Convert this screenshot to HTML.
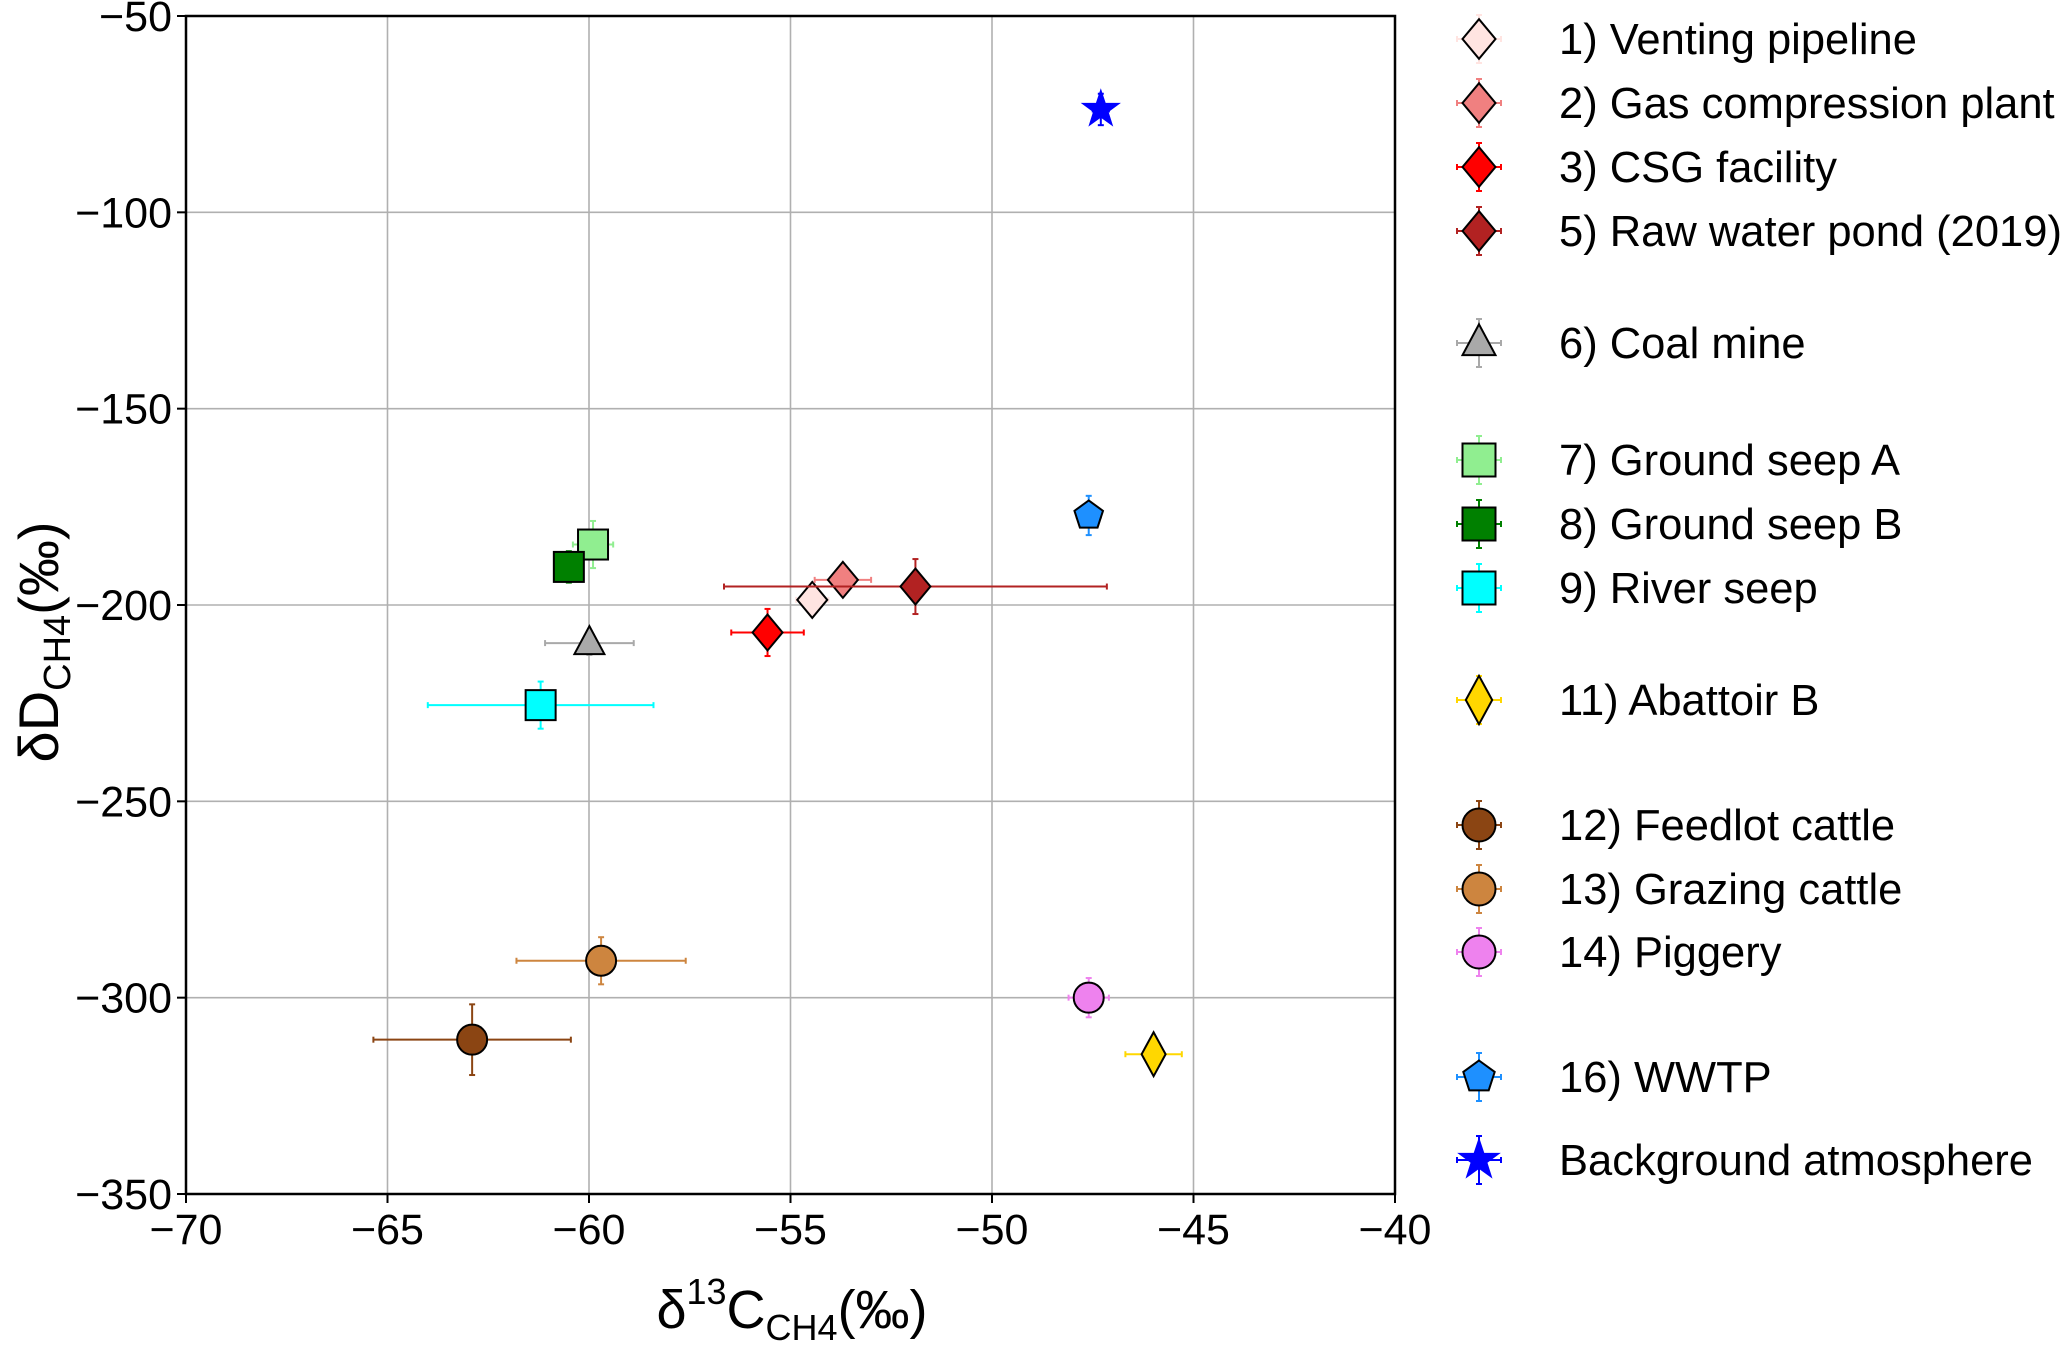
<!DOCTYPE html>
<html><head><meta charset="utf-8"><style>
html,body{margin:0;padding:0;background:#fff;}
svg text{font-family:"Liberation Sans",Arial,sans-serif;fill:#000;}
</style></head><body>
<svg id="chart" width="2067" height="1345" viewBox="0 0 2067 1345" xmlns="http://www.w3.org/2000/svg">
<g id="grid"></g>
<g id="axes"></g>
<g id="marks"></g>
<g id="legend"></g>
</svg>
<script>
const xTicks=[-70,-65,-60,-55,-50,-45,-40];
const yTicks=[-50,-100,-150,-200,-250,-300,-350];
const names=["1) Venting pipeline","2) Gas compression plant","3) CSG facility","5) Raw water pond (2019)","6) Coal mine","7) Ground seep A","8) Ground seep B","9) River seep","11) Abattoir B","12) Feedlot cattle","13) Grazing cattle","14) Piggery","16) WWTP","Background atmosphere"];
const d13C=[-54.46,-53.7,-55.57,-51.9,-59.99,-59.9,-60.5,-61.2,-45.99,-62.9,-59.7,-47.6,-47.6,-47.3];
const dD=[-198.7,-193.6,-207,-195.3,-209.7,-184.6,-190.3,-225.5,-314.4,-310.7,-290.6,-300,-177.2,-73.8];
const xErr=[0.4,0.7,0.9,4.75,1.1,0.5,0.3,2.8,0.7,2.45,2.1,0.5,0.3,0.2];
const yErr=[2,2,6,7,3,6,4,6,3,9,6,5,5,4];
const colors=["#ffe4e1","#f08080","#ff0000","#b22222","#a9a9a9","#90ee90","#008000","#00ffff","#ffd700","#8b4513","#cd853f","#ee82ee","#1e90ff","#0000ff"];
const shapes=["D","D","D","D","^","s","s","s","d","o","o","o","p","*"];
const legendRows=[39,103,167,231,343,460,524,588,700,825,889,952,1077,1160];

const L=186,R=1395,T=16,B=1194;
const xs=v=>L+(v+70)/30*(R-L);
const ys=v=>T+(-50-v)/300*(B-T);
const NS="http://www.w3.org/2000/svg";
function mk(tag,attrs,parent){const e=document.createElementNS(NS,tag);for(const k in attrs)e.setAttribute(k,attrs[k]);parent.appendChild(e);return e;}
const grid=document.getElementById('grid'),axes=document.getElementById('axes'),marks=document.getElementById('marks'),legend=document.getElementById('legend');

xTicks.forEach(t=>{
  const x=xs(t);
  const g=mk('line',{x1:x,x2:x,y1:T,y2:B,stroke:'#b0b0b0','stroke-width':1.6},grid);
  
  
  mk('line',{x1:x,x2:x,y1:B,y2:B+9,stroke:'#000','stroke-width':2},axes);
  const tx=mk('text',{x:x,y:B+50,'font-size':43,'text-anchor':'middle'},axes);
  tx.textContent=String(t).replace('-','\u2212');
  
  
});
yTicks.forEach(t=>{
  const y=ys(t);
  const g=mk('line',{x1:L,x2:R,y1:y,y2:y,stroke:'#b0b0b0','stroke-width':1.6},grid);
  
  
  mk('line',{x1:L-9,x2:L,y1:y,y2:y,stroke:'#000','stroke-width':2},axes);
  const tx=mk('text',{x:L-14,y:y+15,'font-size':43,'text-anchor':'end'},axes);
  tx.textContent=String(t).replace('-','\u2212');
  
  
});
const frame=mk('rect',{x:L,y:T,width:R-L,height:B-T,fill:'none',stroke:'#000','stroke-width':2.5},axes);



const xt=mk('text',{x:792,y:1328,'font-size':54,'text-anchor':'middle'},axes);
xt.innerHTML='δ<tspan dy="-24" font-size="36">13</tspan><tspan dy="24">C</tspan><tspan dy="12" font-size="36">CH4</tspan><tspan dy="-12">(‰)</tspan>';


const yt=mk('text',{x:0,y:0,'font-size':56,'text-anchor':'middle',transform:'translate(58,642) rotate(-90)'},axes);
yt.innerHTML='δD<tspan dy="12" font-size="38">CH4</tspan><tspan dy="-12">(‰)</tspan>';



function marker(shape,cx,cy,col,parent,s){
  let e;
  if(shape==='D') e=mk('polygon',{points:`${cx},${cy-18*s} ${cx+15*s},${cy} ${cx},${cy+18*s} ${cx-15*s},${cy}`},parent);
  else if(shape==='d') e=mk('polygon',{points:`${cx},${cy-22*s} ${cx+12*s},${cy} ${cx},${cy+22*s} ${cx-12*s},${cy}`},parent);
  else if(shape==='^') e=mk('polygon',{points:`${cx},${cy-17*s} ${cx+15*s},${cy+11*s} ${cx-15*s},${cy+11*s}`},parent);
  else if(shape==='s') e=mk('rect',{x:cx-15*s,y:cy-15*s,width:30*s,height:30*s},parent);
  else if(shape==='o') e=mk('circle',{cx:cx,cy:cy,r:15*s},parent);
  else if(shape==='p'){let p=[];for(let i=0;i<5;i++){const a=-Math.PI/2+i*2*Math.PI/5;p.push((cx+15*s*Math.cos(a))+','+(cy+15*s*Math.sin(a)));}e=mk('polygon',{points:p.join(' ')},parent);}
  else {let p=[];for(let i=0;i<10;i++){const r=i%2?7*s:18*s;const a=-Math.PI/2+i*Math.PI/5;p.push((cx+r*Math.cos(a))+','+(cy+r*Math.sin(a)));}e=mk('polygon',{points:p.join(' ')},parent);}
  e.setAttribute('fill',col);
  e.setAttribute('stroke',shape==='*'?col:'#000');
  e.setAttribute('stroke-width',2);
  return e;
}
function errbar(parent,x1,y1,x2,y2,col,horiz){
  mk('line',{x1,y1,x2,y2,stroke:col,'stroke-width':2},parent);
  if(horiz){[x1,x2].forEach(x=>mk('line',{x1:x,x2:x,y1:y1-3,y2:y1+3,stroke:col,'stroke-width':2},parent));}
  else{[y1,y2].forEach(y=>mk('line',{x1:x1-3,x2:x1+3,y1:y,y2:y,stroke:col,'stroke-width':2},parent));}
}
names.forEach((n,i)=>{
  const g=mk('g',{},marks);
  
  
  const cx=xs(d13C[i]),cy=ys(dD[i]);
  errbar(g,xs(d13C[i]-xErr[i]),cy,xs(d13C[i]+xErr[i]),cy,colors[i],true);
  errbar(g,cx,ys(dD[i]+yErr[i]),cx,ys(dD[i]-yErr[i]),colors[i],false);
  marker(shapes[i],cx,cy,colors[i],g,1);
  const lg=mk('g',{},legend);
  
  
  const lx=1479,ly=legendRows[i];
  errbar(lg,lx-22,ly,lx+22,ly,colors[i],true);
  errbar(lg,lx,ly-24,lx,ly+24,colors[i],false);
  marker(shapes[i],lx,ly,colors[i],lg,1.1);
  const t=mk('text',{x:1559,y:ly+15,'font-size':43.5},lg);
  t.textContent=n;
});
</script>
</body></html>
